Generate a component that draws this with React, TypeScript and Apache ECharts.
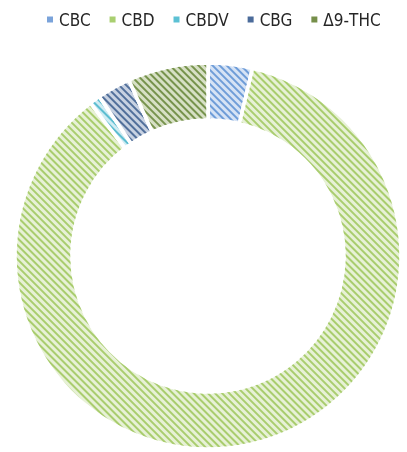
import React, { useEffect, useRef } from "react";
import * as echarts from "echarts";

const categories = ["CBC", "CBD", "CBDV", "CBG", "Δ9-THC"];
const values = [3.7, 85.6, 0.9, 2.8, 6.7];
const baseColors = ["#d6e3f5", "#e7f1d6", "#d0ecf3", "#c8d2e2", "#d7e0c5"];
const stripeColors = ["#6f9dd8", "#a9cd6e", "#5dbed1", "#52709b", "#77934d"];
const legendColors = ["#7aa3da", "#a9cf70", "#5cc1d4", "#4b6b9a", "#768f4a"];

export default function App() {
  const ref = useRef<HTMLDivElement>(null);
  useEffect(() => {
    if (!ref.current) return;
    const chart = echarts.init(ref.current, undefined, { renderer: "svg" });
    chart.setOption({
      animation: false,
      aria: { enabled: false, decal: { show: true } },
      legend: {
        top: 6,
        left: 40,
        itemWidth: 8,
        itemHeight: 8,
        itemGap: 17,
        icon: "rect",
        textStyle: {
          fontFamily: "'Liberation Sans Narrow', 'DejaVu Sans Condensed', 'Liberation Sans', sans-serif",
          fontSize: 17,
          color: "#262626",
        },
        data: categories.map((c, i) => ({
          name: c,
          itemStyle: { color: legendColors[i], decal: "none" as any },
        })),
      },
      series: [
        {
          type: "pie",
          center: [208, 256],
          radius: [136, 193],
          startAngle: 90,
          clockwise: true,
          label: { show: false },
          labelLine: { show: false },
          emphasis: { disabled: true },
          data: categories.map((c, i) => ({
            name: c,
            value: values[i],
            itemStyle: {
              color: baseColors[i],
              borderColor: "#ffffff",
              borderWidth: 3.5,
              decal: {
                symbol: "rect",
                symbolSize: 1,
                color: stripeColors[i],
                dashArrayX: [1, 0],
                dashArrayY: [1.6, 2.4],
                rotation: Math.PI / 4,
              },
            },
          })),
        },
      ],
    });
    return () => chart.dispose();
  }, []);
  return (
    <div
      ref={ref}
      style={{ position: "fixed", left: 0, top: 0, width: 407, height: 452 }}
    />
  );
}
